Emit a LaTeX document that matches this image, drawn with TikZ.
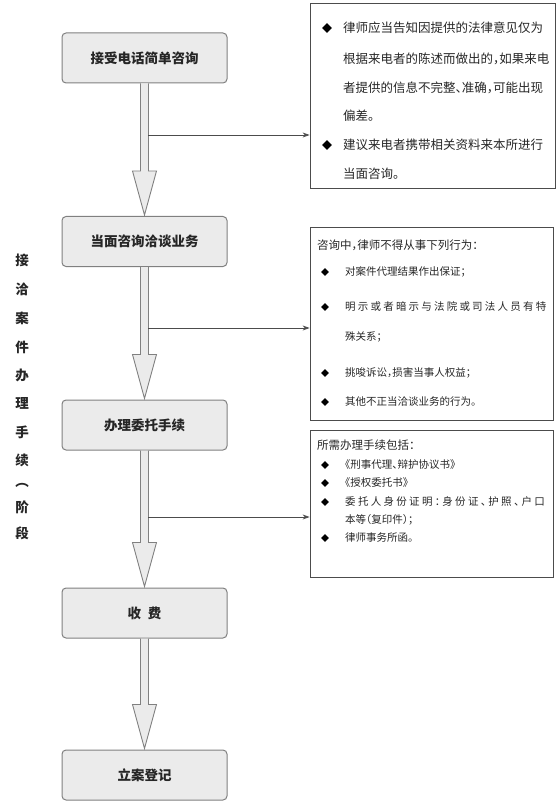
\documentclass[tikz,border=0pt]{standalone}
\usepackage{fontspec}
\setmainfont{Noto Sans CJK SC}
\newfontfamily\notefont[RawFeature=+halt]{Noto Sans CJK SC}
\usetikzlibrary{arrows.meta,calc,shapes.geometric}
\definecolor{boxfill}{HTML}{EBEBEB}
\definecolor{boxline}{HTML}{808080}
\definecolor{txt}{HTML}{262626}
\newcommand\fatarrow[2]{%
  \draw[fatarr] ($(#1.south)+(-4,0)$) -- ($(#2.north)+(-4,-45)$) -- ($(#2.north)+(-12,-45)$)
    -- ($(#2.north)+(0,-1)$) -- ($(#2.north)+(12,-45)$) -- ($(#2.north)+(4,-45)$)
    -- ($(#1.south)+(4,0)$);}
\begin{document}
\begin{tikzpicture}[x=1pt,y=-1pt,
  flow/.style={draw=boxline,line width=1pt,fill=boxfill,rounded corners=4pt,
    minimum width=165pt,minimum height=50pt,inner sep=0pt,
    font=\fontsize{13.5}{14}\selectfont\bfseries,text=txt},
  fatarr/.style={draw=boxline,line width=0.9pt,fill=boxfill,line join=miter},
  note/.style={draw=black!70,line width=0.8pt,inner sep=0pt},
  conn/.style={draw=black!70,line width=0.8pt,-{Stealth[length=7pt,width=5pt]}},
  lineA/.style={anchor=west,inner sep=0pt,font=\notefont\fontsize{12.5}{13}\selectfont,text=txt},
  lineB/.style={anchor=west,inner sep=0pt,font=\notefont\fontsize{10.5}{11}\selectfont,text=txt},
  headB/.style={anchor=west,inner sep=0pt,font=\notefont\fontsize{11.5}{12}\selectfont,text=txt},
  bulA/.style={diamond,fill=black,inner sep=0pt,minimum size=10pt},
  bulB/.style={diamond,fill=black,inner sep=0pt,minimum size=8pt},
  vch/.style={inner sep=0pt,font=\fontsize{13.5}{14}\selectfont\bfseries,text=txt}
]
\useasboundingbox (0,0) rectangle (556,810);

% flow boxes
\node[flow] (n1) at (144.5,58) {接受电话简单咨询};
\node[flow] (n2) at (144.5,241.5) {当面咨询洽谈业务};
\node[flow] (n3) at (144.5,425) {办理委托手续};
\node[flow] (n4) at (144.5,613) {收\hspace{0.5em}费};
\node[flow] (n5) at (144.5,775) {立案登记};

\fatarrow{n1}{n2}
\fatarrow{n2}{n3}
\fatarrow{n3}{n4}
\fatarrow{n4}{n5}

% note boxes
\node[note,minimum width=245pt,minimum height=185pt] (r1) at (432.5,95.5) {};
\node[note,minimum width=243pt,minimum height=193pt] (r2) at (431.5,323.5) {};
\node[note,minimum width=243pt,minimum height=147pt] (r3) at (431.5,503.5) {};

% connectors
\coordinate (c1) at (148,135);
\coordinate (c2) at (148,328);
\coordinate (c3) at (148,517);
\draw[conn] (c1) -- (c1 -| r1.west);
\draw[conn] (c2) -- (c2 -| r2.west);
\draw[conn] (c3) -- (c3 -| r3.west);

% note 1
\node[bulA] (d11) at (327,28) {};
\node[lineA] (t11) at (343,28) {律师应当告知因提供的法律意见仅为};
\node[lineA] (t12) at (343,59) {根据来电者的陈述而做出的，如果来电};
\node[lineA] (t13) at (343,88) {者提供的信息不完整、准确，可能出现};
\node[lineA] (t14) at (343,116) {偏差。};
\node[bulA] (d12) at (327,145) {};
\node[lineA] (t15) at (343,145) {建议来电者携带相关资料来本所进行};
\node[lineA] (t16) at (343,174) {当面咨询。};

% note 2
\node[headB] (t20) at (317,245) {咨询中，律师不得从事下列行为：};
\node[bulB] (d21) at (325,272) {};
\node[lineB] (t21) at (345,272) {对案件代理结果作出保证；};
\node[bulB] (d22) at (325,307) {};
\node[lineB] (t22) at (345,307) {\addfontfeature{LetterSpace=21}明示或者暗示与法院或司法人员有特};
\node[lineB] (t23) at (345,337) {殊关系；};
\node[bulB] (d23) at (325,373) {};
\node[lineB] (t24) at (345,373) {挑唆诉讼，损害当事人权益；};
\node[bulB] (d24) at (325,402) {};
\node[lineB] (t25) at (345,402) {其他不正当洽谈业务的行为。};

% note 3
\node[headB] (t30) at (317,445) {所需办理手续包括：};
\node[bulB] (d31) at (325,465) {};
\node[lineB] (t31) at (345,465) {《刑事代理、辩护协议书》};
\node[bulB] (d32) at (325,483) {};
\node[lineB] (t32) at (345,483) {《授权委托书》};
\node[bulB] (d33) at (325,502) {};
\node[lineB] (t33) at (345,502) {\addfontfeature{LetterSpace=22}委托人身份证明：身份证、护照、户口};
\node[lineB] (t34) at (345,520) {本等（复印件）；};
\node[bulB] (d34) at (325,538) {};
\node[lineB] (t35) at (345,538) {律师事务所函。};

% vertical stage label
\node[vch] (v1) at (22,260) {接};
\node[vch] (v2) at (22,289) {洽};
\node[vch] (v3) at (22,318) {案};
\node[vch] (v4) at (22,347) {件};
\node[vch] (v5) at (22,375) {办};
\node[vch] (v6) at (22,403) {理};
\node[vch] (v7) at (22,432) {手};
\node[vch] (v8) at (22,460) {续};
\node[vch] (v9) at (22,485) {︵};
\node[vch] (v10) at (22,507) {阶};
\node[vch] (v11) at (22,533) {段};
\end{tikzpicture}
\end{document}
